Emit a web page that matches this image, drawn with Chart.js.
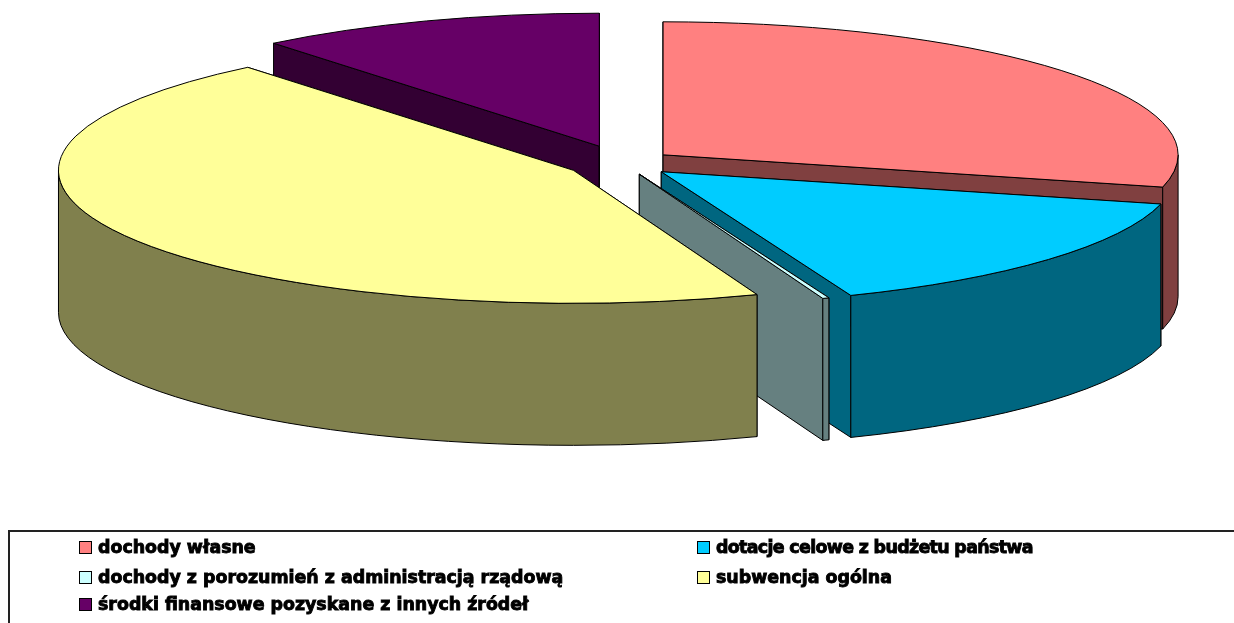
<!DOCTYPE html>
<html>
<head>
<meta charset="utf-8">
<script src="https://cdn.jsdelivr.net/npm/chart.js@4"></script>
<style>
    html, body { margin: 0; background: #fff; overflow: hidden; }
    #wrap { position: relative; width: 1234px; height: 623px; overflow: hidden; }
    #legend {
        position: absolute; left: 8px; top: 530px; width: 1300px; height: 120px;
        border: 2px solid #222; box-sizing: border-box;
    }
    .item {
        position: absolute; white-space: nowrap; color: #000;
        font: bold 17.4px/16px "DejaVu Sans", sans-serif; -webkit-text-stroke: 0.9px #000;
    }
    .item i {
        position: absolute; left: -19px; top: 2px; width: 11px; height: 11px;
        border: 1px solid #000; display: block;
    }
</style>
</head>
<body>
<div id="wrap">
    <canvas id="chart" width="1234" height="623"></canvas>
    <div id="legend"></div>
</div>
<script>
const categories = [
    "dochody własne",
    "dotacje celowe z budżetu państwa",
    "dochody z porozumień z administracją rządową",
    "subwencja ogólna",
    "środki finansowe pozyskane z innych źródeł",
];
const shares = [28.9, 15.1, 0.2, 44.9, 10.9];

const topColors = ["#ff8080", "#00ccff", "#ccffff", "#ffff99", "#660066"];
const wallColors = ["#804040", "#006680", "#668080", "#80804d", "#330033"];
const explode = [0.1, 0.1, 0.09, 0.11, 0.134];

// back to front, later slices cover the walls of earlier ones
const paintOrder = [4, 0, 1, 2, 3];

const CENTER_X = 622.5, CENTER_Y = 163;
const RADIUS_X = 515, RADIUS_Y = 133;
const DEPTH = 142;

// Chart.js only knows flat pies, so squash its arcs and extrude the walls here.
// The explode shift is done here too: the arc's own offset option also narrows the slice.
const pie3d = {
    id: "pie3d",
    beforeDatasetDraw(chart) {
        const ctx = chart.ctx;
        const arcs = chart.getDatasetMeta(0).data;

        for (const i of paintOrder) {
            const arc = arcs[i];
            const mid = (arc.startAngle + arc.endAngle) / 2;
            const x = CENTER_X + Math.cos(mid) * explode[i] * RADIUS_X;
            const y = CENTER_Y + Math.sin(mid) * explode[i] * RADIUS_Y;

            ctx.save();
            ctx.lineWidth = 1;
            ctx.strokeStyle = "#000";
            ctx.fillStyle = wallColors[i];
            ctx.lineJoin = "round";

            // radial faces
            for (const a of [arc.startAngle, arc.endAngle]) {
                const ex = x + Math.cos(a) * RADIUS_X;
                const ey = y + Math.sin(a) * RADIUS_Y;
                ctx.beginPath();
                ctx.moveTo(x, y);
                ctx.lineTo(ex, ey);
                ctx.lineTo(ex, ey + DEPTH);
                ctx.lineTo(x, y + DEPTH);
                ctx.closePath();
                ctx.fill();
                ctx.stroke();
            }

            // outer wall, only the part that faces the viewer
            const from = Math.max(arc.startAngle, 0);
            const to = Math.min(arc.endAngle, Math.PI);
            if (to > from) {
                ctx.beginPath();
                ctx.ellipse(x, y, RADIUS_X, RADIUS_Y, 0, from, to);
                ctx.ellipse(x, y + DEPTH, RADIUS_X, RADIUS_Y, 0, to, from, true);
                ctx.closePath();
                ctx.fill();
                ctx.stroke();
            }

            // top surface is the library's own arc
            ctx.save();
            ctx.translate(x, y);
            ctx.scale(RADIUS_X / arc.outerRadius, RADIUS_Y / arc.outerRadius);
            ctx.translate(-arc.x, -arc.y);
            arc.draw(ctx);
            ctx.restore();

            ctx.beginPath();
            ctx.moveTo(x, y);
            ctx.ellipse(x, y, RADIUS_X, RADIUS_Y, 0, arc.startAngle, arc.endAngle);
            ctx.closePath();
            ctx.stroke();
            ctx.restore();
        }
        return false;
    },
};

new Chart(document.getElementById("chart").getContext("2d"), {
    type: "pie",
    data: {
        labels: categories,
        datasets: [{
            data: shares,
            backgroundColor: topColors,
            borderWidth: 0,
        }],
    },
    options: {
        responsive: false,
        animation: false,
        events: [],
        radius: 200,
        plugins: { legend: { display: false }, tooltip: { enabled: false } },
    },
    plugins: [pie3d],
});

// legend runs row by row in two columns
const legendEl = document.getElementById("legend");
categories.forEach((name, i) => {
    const item = document.createElement("div");
    item.className = "item";
    item.style.left = (i % 2 ? 706 : 88) + "px";
    item.style.top = [7, 7, 37, 37, 64][i] + "px";
    if (i === 1) item.style.letterSpacing = "-0.65px";
    const swatch = document.createElement("i");
    swatch.style.background = topColors[i];
    item.appendChild(swatch);
    item.appendChild(document.createTextNode(name));
    legendEl.appendChild(item);
});
</script>
</body>
</html>
